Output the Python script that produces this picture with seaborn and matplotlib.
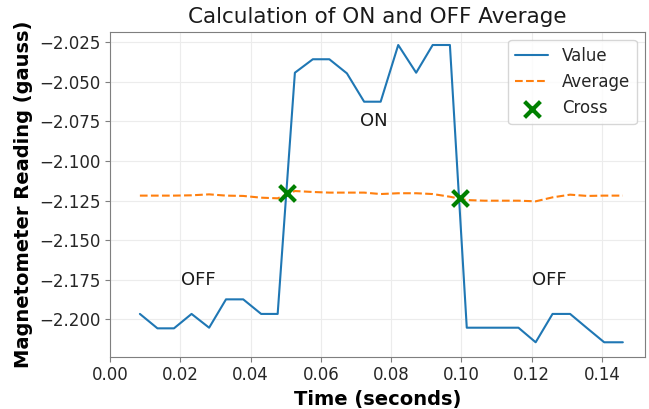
import numpy as np
import pandas as pd
import matplotlib
matplotlib.use("Agg")
import matplotlib.pyplot as plt
import seaborn as sns

# values
time_s = [0.0085, 0.0135, 0.0182, 0.0232, 0.0282, 0.0330, 0.0379, 0.0430, 0.0477,
          0.0526, 0.0577, 0.0624, 0.0674, 0.0723, 0.0770, 0.0820, 0.0871, 0.0918,
          0.0967, 0.1015, 0.1065, 0.1114, 0.1162, 0.1211, 0.1259, 0.1309, 0.1358,
          0.1406, 0.1459]
value = [-2.1965, -2.2056, -2.2056, -2.1965, -2.2052, -2.1873, -2.1873, -2.1965, -2.1965,
         -2.0442, -2.0357, -2.0357, -2.0446, -2.0625, -2.0625, -2.0267, -2.0442, -2.0267,
         -2.0267, -2.2052, -2.2052, -2.2052, -2.2052, -2.2144, -2.1965, -2.1965, -2.2056,
         -2.2144, -2.2144]
average = [-2.1218, -2.1218, -2.1218, -2.1216, -2.1210, -2.1218, -2.1220, -2.1231, -2.1235,
           -2.1189, -2.1195, -2.1199, -2.1199, -2.1199, -2.1208, -2.1203, -2.1203, -2.1208,
           -2.1225, -2.1246, -2.1250, -2.1250, -2.1250, -2.1254, -2.1229, -2.1212, -2.1220,
           -2.1218, -2.1218]
cross_t = [0.0503, 0.0996]
cross_v = [-2.1203, -2.1235]

state_labels = ["OFF", "ON", "OFF"]
state_t = [0.025, 0.075, 0.125]
state_v = [-2.175, -2.075, -2.175]

df = pd.DataFrame({"time": time_s, "value": value, "average": average})
cross = pd.DataFrame({"time": cross_t, "value": cross_v})

sns.set_style("whitegrid", {
    "grid.color": "#ececec",
    "axes.edgecolor": "#7f7f7f",
    "xtick.bottom": True,
    "ytick.left": True,
    "xtick.color": "#7f7f7f",
    "ytick.color": "#7f7f7f",
    "text.color": "#262626",
    "axes.labelcolor": "black",
})
plt.rcParams["font.family"] = ["DejaVu Sans"]

fig = plt.figure(figsize=(6.49, 4.09), dpi=100)
ax = fig.add_axes([0.1695, 0.1279, 0.9938 - 0.1695, 0.9225 - 0.1279])

sns.lineplot(data=df, x="time", y="value", ax=ax, color="#1f77b4", lw=1.5, label="Value")
sns.lineplot(data=df, x="time", y="average", ax=ax, color="#ff7f0e", lw=1.5,
             linestyle="--", label="Average")
sns.scatterplot(data=cross, x="time", y="value", ax=ax, color="green", marker="x",
                s=130, linewidth=3, label="Cross", zorder=5)

for lab, tx, ty in zip(state_labels, state_t, state_v):
    ax.text(tx, ty, lab, fontsize=13, ha="center", va="center", color="#1a1a1a")

ax.set_xlim(0, 0.1522)
ax.set_ylim(-2.2235, -2.0183)
ax.set_xticks([0.00, 0.02, 0.04, 0.06, 0.08, 0.10, 0.12, 0.14])
ax.set_yticks([-2.200, -2.175, -2.150, -2.125, -2.100, -2.075, -2.050, -2.025])
ax.tick_params(labelsize=12, labelcolor="#262626", length=3.5, width=0.8)

ax.set_title("Calculation of ON and OFF Average", fontsize=15.5, color="#1a1a1a")
ax.set_xlabel("Time (seconds)", fontsize=14, fontweight="bold")
ax.set_ylabel("Magnetometer Reading (gauss)", fontsize=14, fontweight="bold")
ax.legend(loc="upper right", fontsize=12, frameon=True)

fig.savefig("out.png", dpi=100)
